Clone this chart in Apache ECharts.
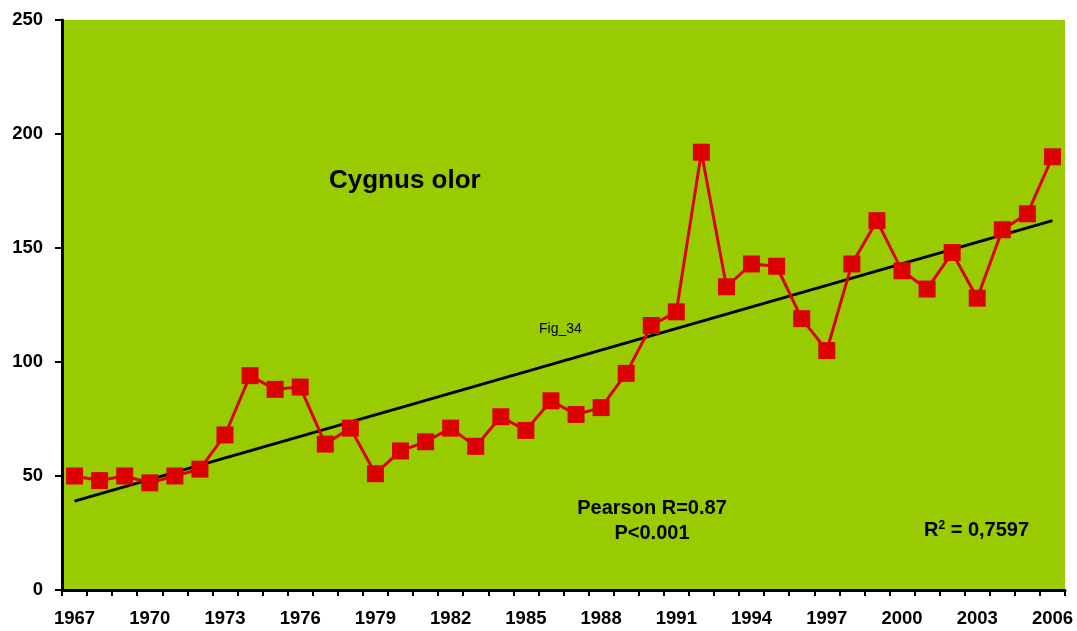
<!DOCTYPE html>
<html>
<head>
<meta charset="utf-8">
<script src="https://cdn.jsdelivr.net/npm/echarts@6/dist/echarts.min.js"></script>
<style>
  html, body { margin: 0; padding: 0; background: #ffffff; }
  #chart { width: 1077px; height: 631px; }
</style>
</head>
<body>
<div id="chart"></div>
<script>
// Mute swan (Cygnus olor) yearly counts, 1967-2006
const years = [];
for (let y = 1967; y <= 2006; y++) years.push(String(y));

const counts = [
  50, 48, 50, 47, 50, 53, 68, 94, 88, 89,
  64, 71, 51, 61, 65, 71, 63, 76, 70, 83,
  77, 80, 95, 116, 122, 192, 133, 143, 142, 119,
  105, 143, 162, 140, 132, 148, 128, 158, 165, 190
];

// Linear trend endpoints (first and last year)
const trendEnds = [39, 162];

const yTicks = [0, 50, 100, 150, 200, 250];

const FONT = '"Liberation Sans", Arial, sans-serif';

const chart = echarts.init(document.getElementById('chart'), null, { renderer: 'canvas' });

chart.setOption({
  animation: false,
  backgroundColor: '#ffffff',
  grid: {
    left: 62, right: 12, top: 20, bottom: 41,
    show: true, backgroundColor: '#99CC00', borderWidth: 0
  },
  xAxis: {
    type: 'category',
    data: years,
    boundaryGap: true,
    axisLine: { lineStyle: { color: '#000', width: 3 } },
    axisTick: { show: true, interval: 0, length: 6, lineStyle: { color: '#000', width: 2 } },
    axisLabel: {
      interval: 2, color: '#000', fontFamily: FONT, fontWeight: 'bold',
      fontSize: 18.5, margin: 19
    },
    splitLine: { show: false }
  },
  yAxis: {
    type: 'value',
    min: yTicks[0], max: yTicks[yTicks.length - 1], interval: 50,
    axisLine: { show: true, lineStyle: { color: '#000', width: 3 } },
    axisTick: { show: true, length: 7, lineStyle: { color: '#000', width: 2 } },
    axisLabel: { color: '#000', fontFamily: FONT, fontWeight: 'bold', fontSize: 18.5, margin: 19 },
    splitLine: { show: false }
  },
  series: [
    {
      type: 'line',
      data: [[0, trendEnds[0]], [years.length - 1, trendEnds[1]]],
      showSymbol: false,
      lineStyle: { color: '#000', width: 3 },
      z: 2
    },
    {
      type: 'line',
      data: counts,
      symbol: 'rect',
      symbolSize: 17,
      showAllSymbol: true,
      itemStyle: { color: '#DD0000' },
      lineStyle: { color: '#DD0000', width: 3 },
      z: 3
    }
  ],
  graphic: [
    {
      type: 'text', x: 329, y: 168,
      style: { text: 'Cygnus olor', font: 'bold 26px ' + FONT, fill: '#000' }
    },
    {
      type: 'text', x: 539, y: 322,
      style: { text: 'Fig_34', font: '14px ' + FONT, fill: '#000' }
    },
    {
      type: 'text', x: 652, y: 496,
      style: {
        text: 'Pearson R=0.87\nP<0.001', font: 'bold 20px ' + FONT,
        fill: '#000', align: 'center', verticalAlign: 'top', lineHeight: 25
      }
    },
    {
      type: 'text', x: 924, y: 520,
      style: {
        text: 'R{sup|2} = 0,7597',
        font: 'bold 20px ' + FONT, fill: '#000',
        rich: { sup: { font: 'bold 12px ' + FONT, fill: '#000', verticalAlign: 'top', padding: [0, 0, 9, 0] } }
      }
    }
  ]
});
</script>
</body>
</html>
